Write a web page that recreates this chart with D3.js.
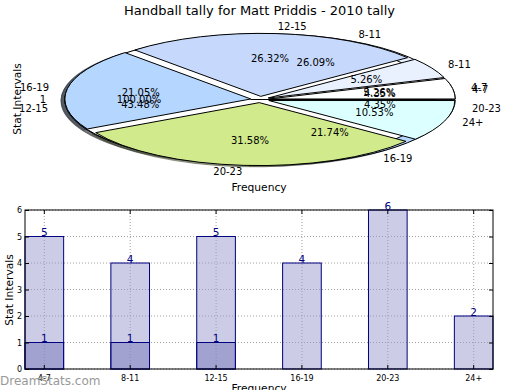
<!DOCTYPE html>
<html><head><meta charset="utf-8">
<script src="https://cdn.jsdelivr.net/npm/d3@7"></script>
<style>body{margin:0;background:#fff} svg{display:block} text{font-family:"DejaVu Sans",sans-serif}</style>
</head><body><svg id="c" width="520" height="390"></svg>
<script>
const title = "Handball tally for Matt Priddis - 2010 tally";
const categories = ["4-7","8-11","12-15","16-19","20-23","24+"];
// three overlapping pies (bottom to top)
const pieBottomValues = [1,6,10,5,1];
const pieBottomLabels = ["4-7","8-11","12-15","16-19","20-23"];
const pieMidValues = [1];
const pieMidLabels = ["1"];
const pieTopValues = [1,1,5,4,6,2];
const pieTopLabels = ["4-7","8-11","12-15","16-19","20-23","24+"];
// bars (overlaid)
const barTotal = [5,4,5,4,6,2];
const barPart = [1,1,1,0,0,0];
const yTicks = [0,1,2,3,4,5,6];
const sliceColors = ["#ffffff","#e9f1fe","#c6d9fd","#b4d6ff","#d0ea8c","#dcffff"];

const svg = d3.select("#c");
const font = '"DejaVu Sans",sans-serif';

svg.append("text").attr("x",259.5).attr("y",15).attr("text-anchor","middle")
  .attr("font-size",13).text(title);

// ---------- PIE ----------
const pcx=260, pcy=99.5, prx=186, pry=63, explode=0.05;
const px = d3.scaleLinear().domain([-1,1]).range([pcx-prx, pcx+prx]);
const py = d3.scaleLinear().domain([-1,1]).range([pcy-pry, pcy+pry]); // screen-down unit coords
const arc = d3.arc().innerRadius(0).outerRadius(1);
const layout = v => d3.pie().sort(null).startAngle(Math.PI/2).endAngle(Math.PI/2-2*Math.PI)(v);
const pies = [
  {values:pieBottomValues, labels:pieBottomLabels},
  {values:pieMidValues, labels:pieMidLabels},
  {values:pieTopValues, labels:pieTopLabels}
];
pies.forEach(p=>{ p.arcs = layout(p.values); p.total = d3.sum(p.values); });
const gT = `translate(${px(0)},${py(0)}) scale(${px(1)-px(0)},${py(1)-py(0)})`;
const pieG = svg.append("g").attr("transform", gT);
const mid = d => (d.startAngle+d.endAngle)/2;
const off = (d,r) => [r*Math.sin(mid(d)), -r*Math.cos(mid(d))];

function wedge(g, d, fill, stroke, opacity){
  const o = off(d, explode);
  const w = g.append("g").attr("transform",`translate(${o[0]},${o[1]})`);
  w.append("path").attr("d", arc(d)).attr("fill", fill).attr("fill-opacity", opacity)
    .attr("stroke", stroke).attr("stroke-opacity", opacity).attr("stroke-width",1)
    .attr("vector-effect","non-scaling-stroke");
  if (Math.abs(d.endAngle-d.startAngle) > 2*Math.PI-1e-6) {
    w.append("path").attr("d", d3.line()([[0,0],[Math.sin(d.startAngle),-Math.cos(d.startAngle)]]))
      .attr("stroke", stroke).attr("stroke-opacity", opacity).attr("fill","none")
      .attr("vector-effect","non-scaling-stroke");
  }
  return w;
}
// shadows
const shadowG = pieG.append("g").attr("transform","translate(-0.02,0.02)");
pies.forEach(p=>p.arcs.forEach((d,i)=>{
  const c = d3.rgb(sliceColors[i%sliceColors.length]);
  const s = d3.rgb(c.r*0.3,c.g*0.3,c.b*0.3).toString();
  wedge(shadowG, d, s, s, 0.5);
}));
// wedges
pies.forEach(p=>p.arcs.forEach((d,i)=>wedge(pieG, d, sliceColors[i%sliceColors.length], "#000", 1)));
// texts
const pct = d3.format(".2f");
pies.forEach(p=>p.arcs.forEach((d,i)=>{
  const l = off(d, explode+1.1);
  svg.append("text").attr("x", px(l[0])).attr("y", py(l[1])).attr("dy","0.3em")
    .attr("font-size",10).attr("text-anchor", l[0]>0 ? "start":"end").text(p.labels[i]);
  const q = off(d, explode+0.6);
  svg.append("text").attr("x", px(q[0])).attr("y", py(q[1])).attr("dy","0.32em")
    .attr("font-size",10).attr("text-anchor","middle").text(pct(d.value/p.total*100)+"%");
}));
svg.append("text").attr("transform","translate(20.5,99) rotate(-90)").attr("text-anchor","middle")
  .attr("font-size",10.7).text("Stat Intervals");
svg.append("text").attr("x",259).attr("y",191).attr("text-anchor","middle")
  .attr("font-size",10.7).text("Frequency");

// ---------- BARS ----------
const L=25,R=493,T=210,B=369;
const x = d3.scaleBand().domain(categories).range([L,R]).paddingInner(0.55).paddingOuter(0);
const y = d3.scaleLinear().domain([0,6]).range([B,T]);
// grid (behind translucent bars)
const grid = svg.append("g").attr("stroke","#a0a0a0").attr("stroke-dasharray","1,2").attr("stroke-width",1);
yTicks.forEach(t=>grid.append("line").attr("x1",L).attr("x2",R).attr("y1",y(t)).attr("y2",y(t)));
categories.forEach(c=>grid.append("line").attr("x1",x(c)+x.bandwidth()/2).attr("x2",x(c)+x.bandwidth()/2).attr("y1",T).attr("y2",B));
const barG = svg.append("g");
barG.selectAll("rect.a").data(barTotal).join("rect")
  .attr("x",(d,i)=>x(categories[i])).attr("y",d=>y(d)).attr("width",x.bandwidth())
  .attr("height",d=>y(0)-y(d)).attr("fill","#9999cd").attr("fill-opacity",0.5)
  .attr("stroke","#000080").attr("stroke-width",1);
barG.selectAll("rect.b").data(barPart).join("rect")
  .attr("x",(d,i)=>x(categories[i])).attr("y",d=>y(d)).attr("width",x.bandwidth())
  .attr("height",d=>y(0)-y(d)).attr("fill","#7878ba").attr("fill-opacity",0.5)
  .attr("stroke","#000080").attr("stroke-width",d=>d>0?1:0);
// frame
svg.append("rect").attr("x",L).attr("y",T).attr("width",R-L).attr("height",B-T).attr("fill","none").attr("stroke","#000").attr("stroke-width",1);
// axes
const styleAxis = g => { g.select(".domain").remove(); g.selectAll("text").attr("font-family",font).attr("font-size",8).attr("fill","#000"); g.selectAll("line").attr("stroke","#000"); };
svg.append("g").attr("transform",`translate(${L},0)`).call(d3.axisLeft(y).tickValues(yTicks).tickFormat(d3.format("d")).tickSize(-4).tickPadding(3)).call(styleAxis);
svg.append("g").attr("transform",`translate(${R},0)`).call(d3.axisRight(y).tickValues(yTicks).tickSize(-4).tickFormat("")).call(styleAxis);
svg.append("g").attr("transform",`translate(0,${B})`).call(d3.axisBottom(x).tickSize(-4).tickPadding(6)).call(styleAxis);
svg.append("g").attr("transform",`translate(0,${T})`).call(d3.axisTop(x).tickSize(-4).tickFormat("")).call(styleAxis);
// value labels
const vl = svg.append("g").attr("font-size",10.5).attr("fill","#000080").attr("text-anchor","middle");
barTotal.forEach((v,i)=>{ if(v>0) vl.append("text").attr("x",x(categories[i])+x.bandwidth()/2).attr("y",y(v)-0.5).text(v); });
barPart.forEach((v,i)=>{ if(v>0) vl.append("text").attr("x",x(categories[i])+x.bandwidth()/2).attr("y",y(v)-0.5).text(v); });
svg.append("text").attr("transform","translate(13,290) rotate(-90)").attr("text-anchor","middle")
  .attr("font-size",10.7).text("Stat Intervals");
svg.append("text").attr("x",259).attr("y",392).attr("text-anchor","middle")
  .attr("font-size",10.7).text("Frequency");
svg.append("text").attr("x",0).attr("y",385).attr("font-size",12).attr("fill","#999").text("DreamStats.com");
</script></body></html>
